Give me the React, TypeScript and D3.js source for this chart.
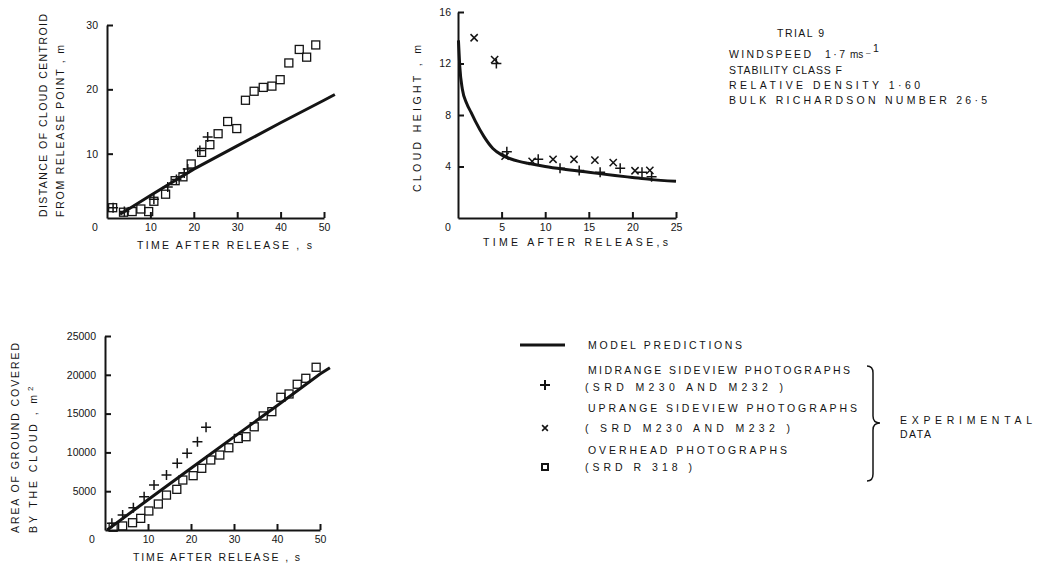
import React, { useEffect, useRef } from "react";
import * as d3 from "d3";

const width = 1056;
const height = 566;
const ink = "#141414";
const font = "'Liberation Sans', Arial, sans-serif";

// panel 1: distance of cloud centroid from release point (m) vs time (s)
const distModel: [number, number][] = [
  [3, 0.6], [5, 1.4], [10, 3.5], [20, 7.6], [30, 11.2], [40, 14.8], [50, 18.3], [52.5, 19.2],
];
const distMid: [number, number][] = [
  [1.4, 1.6], [4, 1.0], [10.8, 2.9], [14, 4.8], [16, 6.0], [17.8, 7.0], [18.6, 7.6], [21.4, 10.5], [23.2, 12.6],
];
const distOver: [number, number][] = [
  [1.3, 1.6], [3.8, 0.9], [5.8, 1.0], [7.8, 1.4], [9.6, 1.0], [10.8, 2.6], [13.5, 3.7], [15.7, 5.8],
  [17.5, 6.4], [19.4, 8.4], [21.8, 10.2], [23.7, 11.4], [25.6, 13.1], [27.8, 15.0], [29.9, 13.9],
  [31.9, 18.3], [33.9, 19.7], [36, 20.3], [38, 20.5], [39.9, 21.5], [41.9, 24.1], [44.3, 26.2],
  [46, 25.0], [48.1, 26.9],
];

// panel 2: cloud height (m) vs time (s)
const heightModel: [number, number][] = [
  [0.05, 13.8], [0.2, 11.8], [0.5, 10.0], [1, 8.9], [1.5, 8.2], [2, 7.5], [3, 6.3], [4, 5.4],
  [5, 4.9], [6, 4.6], [7, 4.4], [8, 4.25], [10, 4.0], [12, 3.8], [15, 3.55], [18, 3.3],
  [20, 3.15], [22, 3.0], [25, 2.85],
];
const heightMid: [number, number][] = [
  [4.4, 12.0], [5.6, 5.15], [9.2, 4.56], [11.7, 3.87], [13.9, 3.69], [16.3, 3.56], [18.6, 3.87],
  [21.1, 3.56], [22.2, 3.2],
];
const heightUp: [number, number][] = [
  [1.85, 14.0], [4.2, 12.3], [5.4, 4.8], [8.5, 4.4], [10.9, 4.56], [13.3, 4.56], [15.7, 4.5],
  [17.8, 4.3], [20.3, 3.67], [22.0, 3.7],
];

// panel 3: area of ground covered (m2) vs time (s)
const areaModel: [number, number][] = [
  [0.5, 0], [10, 3900], [20, 7950], [30, 12000], [40, 16000], [50, 20100], [52.3, 20900],
];
const areaMid: [number, number][] = [
  [1.6, 860], [4.1, 1930], [6.6, 2880], [9.1, 4290], [11.4, 5800], [14.3, 7090], [16.8, 8590],
  [19.1, 9880], [21.5, 11380], [23.5, 13230],
];
const areaOver: [number, number][] = [
  [1.9, 350], [4.1, 520], [6.4, 940], [8.3, 1500], [10.2, 2450], [12.4, 3350], [14.3, 4500],
  [16.7, 5240], [18.1, 6440], [20.5, 7000], [22.5, 7950], [24.6, 9020], [26.7, 9660], [28.8, 10600],
  [31, 11800], [32.8, 12020], [34.7, 13300], [36.8, 14700], [38.8, 15250], [40.9, 17100],
  [42.8, 17530], [44.7, 18780], [46.7, 19550], [49.1, 20970],
];

const trialLines = ["STABILITY  CLASS  F", "RELATIVE  DENSITY  1·60", "BULK  RICHARDSON  NUMBER  26·5"];

const plusPath = "M-5,0H5M0,-5V5";
const crossPath = "M-3.6,-3.6L3.6,3.6M3.6,-3.6L-3.6,3.6";

const Axis = ({ scale, orient, ticks, at, pad }: any) => {
  const ref = useRef<SVGGElement>(null);
  useEffect(() => {
    const gen = orient === "bottom" ? d3.axisBottom(scale) : d3.axisLeft(scale);
    gen.tickValues(ticks).tickSizeInner(-6).tickSizeOuter(0).tickPadding(pad).tickFormat(d3.format("d"));
    const g = d3.select(ref.current);
    g.call(gen as any);
    g.select(".domain").attr("stroke", ink).attr("stroke-width", 2);
    g.selectAll(".tick line").attr("stroke", ink).attr("stroke-width", 2);
    g.selectAll(".tick text").attr("font-family", font).attr("font-size", 10.5).attr("fill", ink);
  }, []);
  const transform = orient === "bottom" ? `translate(0,${at})` : `translate(${at},0)`;
  return <g ref={ref} transform={transform} />;
};

const Marks = ({ data, x, y, kind }: any) => (
  <g stroke={ink} fill="none" strokeWidth={kind === "square" ? 1.3 : 1.5}>
    {data.map((d: [number, number], i: number) =>
      kind === "square" ? (
        <rect key={i} x={x(d[0]) - 4} y={y(d[1]) - 4} width={8} height={8} />
      ) : (
        <path key={i} d={kind === "plus" ? plusPath : crossPath} transform={`translate(${x(d[0])},${y(d[1])})`} />
      )
    )}
  </g>
);

const Label = ({ x, y, len, size = 10.5, rotate = false, children }: any) => (
  <text
    x={rotate ? 0 : x}
    y={rotate ? 0 : y}
    transform={rotate ? `translate(${x},${y}) rotate(-90)` : undefined}
    textLength={len}
    lengthAdjust="spacing"
    fontSize={size}
    fontFamily={font}
    fill={ink}
  >
    {children}
  </text>
);

export default function App() {
  // panel scales
  const x1 = d3.scaleLinear().domain([0, 50]).range([107, 324]);
  const y1 = d3.scaleLinear().domain([0, 30]).range([218, 25]);
  const x2 = d3.scaleLinear().domain([0, 25]).range([458, 676]);
  const y2 = d3.scaleLinear().domain([0, 16]).range([218, 12]);
  const x3 = d3.scaleLinear().domain([0, 50]).range([105, 320]);
  const y3 = d3.scaleLinear().domain([0, 25000]).range([530, 336]);

  const lineOf = (x: any, y: any, curve: any = d3.curveLinear) =>
    d3.line<[number, number]>().x((d) => x(d[0])).y((d) => y(d[1])).curve(curve);

  return (
    <svg width={width} height={height} style={{ position: "absolute", left: 0, top: 0, background: "#fff" }}>
      {/* panel 1 */}
      <Axis scale={x1} orient="bottom" ticks={[10, 20, 30, 40, 50]} at={218} pad={6} />
      <Axis scale={y1} orient="left" ticks={[10, 20, 30]} at={107} pad={9} />
      <text x={95} y={231} fontSize={10.5} fontFamily={font} fill={ink} textAnchor="middle">0</text>
      <path d={lineOf(x1, y1)(distModel)!} fill="none" stroke={ink} strokeWidth={3} />
      <Marks data={distOver} x={x1} y={y1} kind="square" />
      <Marks data={distMid} x={x1} y={y1} kind="plus" />
      <Label x={47} y={217} len={203} rotate>DISTANCE OF CLOUD CENTROID</Label>
      <Label x={64} y={217} len={172} rotate>FROM RELEASE POINT , m</Label>
      <Label x={137} y={249} len={175}>TIME  AFTER RELEASE , s</Label>

      {/* panel 2 */}
      <Axis scale={x2} orient="bottom" ticks={[5, 10, 15, 20, 25]} at={218} pad={6} />
      <Axis scale={y2} orient="left" ticks={[4, 8, 12, 16]} at={458} pad={7} />
      <text x={448} y={231} fontSize={10.5} fontFamily={font} fill={ink} textAnchor="middle">0</text>
      <path d={lineOf(x2, y2, d3.curveMonotoneX)(heightModel)!} fill="none" stroke={ink} strokeWidth={3} />
      <Marks data={heightUp} x={x2} y={y2} kind="cross" />
      <Marks data={heightMid} x={x2} y={y2} kind="plus" />
      <Label x={420.5} y={192} len={147} rotate>CLOUD   HEIGHT , m</Label>
      <Label x={483} y={246} len={185}>TIME   AFTER  RELEASE,s</Label>

      {/* trial conditions */}
      <Label x={777} y={37} len={47}>TRIAL  9</Label>
      <Label x={729} y={57.5} len={82}>WINDSPEED</Label>
      <Label x={825} y={57.5} len={20}>1·7</Label>
      <text x={850} y={57.5} fontSize={10} fontFamily={font} fill={ink}>ms</text>
      <text x={866} y={55} fontSize={8} fontFamily={font} fill={ink}>–</text>
      <text x={873} y={52} fontSize={10.5} fontFamily={font} fill={ink}>1</text>
      {trialLines.map((t, i) => (
        <Label key={t} x={729} y={73.5 + i * 15} len={[113, 191, 258][i]}>{t}</Label>
      ))}

      {/* panel 3 */}
      <Axis scale={x3} orient="bottom" ticks={[10, 20, 30, 40, 50]} at={530} pad={6} />
      <Axis scale={y3} orient="left" ticks={[5000, 10000, 15000, 20000, 25000]} at={105} pad={9} />
      <text x={92} y={543} fontSize={10.5} fontFamily={font} fill={ink} textAnchor="middle">0</text>
      <path d={lineOf(x3, y3)(areaModel)!} fill="none" stroke={ink} strokeWidth={3} />
      <Marks data={areaOver} x={x3} y={y3} kind="square" />
      <Marks data={areaMid} x={x3} y={y3} kind="plus" />
      <Label x={19} y={533} len={190} rotate>AREA OF GROUND COVERED</Label>
      <Label x={37} y={533} len={138} rotate>BY THE CLOUD , m</Label>
      <text transform="translate(33,391) rotate(-90)" fontSize={8} fontFamily={font} fill={ink}>2</text>
      <Label x={133} y={561} len={167}>TIME AFTER  RELEASE , s</Label>

      {/* legend */}
      <line x1={520} x2={565} y1={345} y2={345} stroke={ink} strokeWidth={3} />
      <Label x={588} y={349} len={154}>MODEL  PREDICTIONS</Label>
      <path d={plusPath} transform="translate(545,385)" stroke={ink} strokeWidth={2} fill="none" />
      <Label x={588} y={374} len={262}>MIDRANGE  SIDEVIEW  PHOTOGRAPHS</Label>
      <Label x={585} y={391} len={198}>{"(SRD  M230  AND  M232 )"}</Label>
      <path d={crossPath} transform="translate(545,428) scale(0.8)" stroke={ink} strokeWidth={2} fill="none" />
      <Label x={588} y={412} len={269}>UPRANGE  SIDEVIEW  PHOTOGRAPHS</Label>
      <Label x={585} y={431.5} len={205}>{"( SRD  M230  AND  M232 )"}</Label>
      <rect x={542} y={464} width={6} height={6} stroke={ink} strokeWidth={2} fill="none" />
      <Label x={588} y={454} len={199}>OVERHEAD  PHOTOGRAPHS</Label>
      <Label x={585} y={471} len={107}>{"(SRD  R 318  )"}</Label>
      <path
        d="M867,366 Q873,366 873,373 V416 Q873,423 880,423 Q873,423 873,430 V474 Q873,481 867,481"
        fill="none"
        stroke={ink}
        strokeWidth={1.5}
      />
      <Label x={900} y={423.5} len={132}>EXPERIMENTAL</Label>
      <Label x={900} y={437.5} len={31}>DATA</Label>
    </svg>
  );
}
